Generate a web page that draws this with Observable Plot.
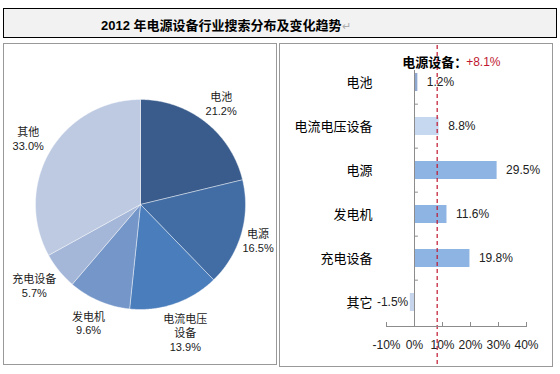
<!DOCTYPE html>
<html><head><meta charset="utf-8">
<script src="https://cdn.jsdelivr.net/npm/d3@7"></script>
<script src="https://cdn.jsdelivr.net/npm/@observablehq/plot@0.6"></script>
<style>
body{margin:0;background:#fff;width:560px;height:374px;position:relative;overflow:hidden;font-family:"Liberation Sans","Noto Sans CJK SC",sans-serif;}
#title{position:absolute;left:3px;top:8px;width:552px;height:28px;border:1px solid #000;background:#f2f2f2;}
#title span.t{position:absolute;left:97px;top:6px;font-size:13px;font-weight:bold;color:#000;white-space:nowrap;font-family:"Liberation Sans","Noto Sans CJK SC",sans-serif;}
#title span.r{font-weight:normal;color:#aaa;font-size:11px}
#left{position:absolute;left:3px;top:43px;width:272px;height:320px;border:1px solid #999;}
#right{position:absolute;left:279px;top:43px;width:272px;height:322px;border:1px solid #999;}
#left svg,#right svg{position:absolute;left:0;top:0;}
</style></head><body>
<div id="title"><span class="t">2012 年电源设备行业搜索分布及变化趋势<span class="r">↵</span></span></div>
<div id="left"></div>
<div id="right"></div>
<script>
// ---- Pie data (share of searches, %) ----
const pieNames = ["电池", "电源", "电流电压设备", "发电机", "充电设备", "其他"];
const pieLabels = ["电池", "电源", "电流电压\n设备", "发电机", "充电设备", "其他"];
const pieValues = [21.2, 16.5, 13.9, 9.6, 5.7, 33.0];
const pieColors = ["#3a5c8c", "#416ca4", "#4a7dbb", "#7596c9", "#a5b7d8", "#bdcae2"];

// ---- Bar data (change, %) ----
const barNames = ["电池", "电流电压设备", "电源", "发电机", "充电设备", "其它"];
const barValues = [1.2, 8.8, 29.5, 11.6, 19.8, -1.5];
const barColors = ["#8ea8cf", "#c6d8ef", "#8db4e2", "#8db4e2", "#8db4e2", "#c6d5ec"];
const xTicks = [-10, 0, 10, 20, 30, 40];
const overallName = "电源设备";
const overallValue = 8.1;

const FONT = '"Liberation Sans","Noto Sans CJK SC",sans-serif';

// ---- Pie ----
const arcs = d3.pie().sort(null).value(d => d)(pieValues);
const piePts = [];
arcs.forEach((a, i) => {
  const n = Math.max(2, Math.ceil((a.endAngle - a.startAngle) / 0.01));
  piePts.push({name: pieNames[i], x: 0, y: 0});
  for (let k = 0; k <= n; k++) {
    const t = a.startAngle + (a.endAngle - a.startAngle) * k / n;
    piePts.push({name: pieNames[i], x: Math.sin(t), y: Math.cos(t)});
  }
  piePts.push({name: pieNames[i], x: 0, y: 0});
});

const PW = 272, PH = 320, cx = 136, cy = 160, R = 105;
const LFS = 11, LLH = 14;
// Excel-like outside label placement: box edge just outside the arc, clamped to the panel
const pieText = arcs.map((a, i) => {
  const m = (a.startAngle + a.endAngle) / 2;
  const s = Math.sin(m), c = Math.cos(m);
  const text = pieLabels[i] + "\n" + pieValues[i].toFixed(1) + "%";
  const lines = text.split("\n");
  const w = d3.max(lines, l => Array.from(l).reduce((acc, ch) => acc + (/[\u4e00-\u9fff]/.test(ch) ? LFS : LFS * 0.56), 0));
  const h = lines.length * LLH;
  let px = (R + 10) * s + s * w / 2;
  let py = (R + 10) * c + c * h / 2;
  const maxX = PW - cx - w / 2 - 3, minX = -cx + w / 2 + 3;
  px = Math.max(minX, Math.min(maxX, px));
  return {x: px / R, y: py / R, text};
});

const pie = Plot.plot({
  width: PW, height: PH,
  margin: 0,
  style: {fontFamily: FONT, background: "transparent", color: "#1a1a1a"},
  x: {domain: [-1, 1], range: [cx - R, cx + R], axis: null},
  y: {domain: [-1, 1], range: [cy + R, cy - R], axis: null},
  color: {domain: pieNames, range: pieColors},
  marks: [
    Plot.line(piePts, {x: "x", y: "y", z: "name", fill: "name", stroke: "#ffffff", strokeWidth: 0.6, strokeOpacity: 0.7, curve: "linear"}),
    Plot.text(pieText, {x: "x", y: "y", text: "text", fontSize: LFS, lineHeight: LLH / LFS, fill: "#1a1a1a"})
  ]
});
document.getElementById("left").appendChild(pie);

// ---- Bars ----
const bars = barNames.map((n, i) => ({name: n, value: barValues[i]}));
const W = 272, H = 322, mT = 14, mB = 40, mL = 106, mR = 26;
const step = (H - mT - mB) / barNames.length;
const bar = Plot.plot({
  width: W, height: H,
  marginTop: mT, marginBottom: mB, marginLeft: mL, marginRight: mR,
  style: {fontFamily: FONT, background: "transparent", color: "#222"},
  x: {domain: [-10, 40], axis: null, label: null},
  y: {domain: barNames, paddingInner: 0.6, paddingOuter: 0.3, axis: null, label: null},
  color: {domain: barNames, range: barColors},
  marks: [
    Plot.barX(bars, {x: "value", y: "name", fill: "name"}),
    Plot.ruleX([overallValue], {stroke: "#c0172f", strokeWidth: 1.2, strokeDasharray: "4,3", insetTop: -13, insetBottom: -39}),
    Plot.ruleX([0], {stroke: "#8c8c8c", insetTop: 12}),
    Plot.ruleY(barNames.slice(1), {y: d => d, x1: 0, x2: 1.4, stroke: "#8c8c8c", dy: -step / 2}),
    Plot.frame({anchor: "bottom", stroke: "#8c8c8c"}),
    Plot.tickX(xTicks, {x: d => d, stroke: "#8c8c8c", insetTop: (H - mT - mB) - 4}),
    Plot.axisX(xTicks, {anchor: "bottom", label: null, tickSize: 0, tickPadding: 14, tickFormat: d => d + "%", fontSize: 12, fill: "#222"}),
    Plot.axisY({anchor: "left", label: null, tickSize: 0, tickPadding: 14, fontSize: 13, fill: "#000"}),
    Plot.text(bars, {filter: d => d.value >= 0, x: "value", y: "name", text: d => d.value.toFixed(1) + "%",
      textAnchor: "start", dx: 9, fontSize: 12, fill: "#222"}),
    Plot.text(bars, {filter: d => d.value < 0, x: "value", y: "name", text: d => d.value.toFixed(1) + "%",
      textAnchor: "end", dx: -2, fontSize: 12, fill: "#222"}),
    Plot.text([overallName + "："], {x: overallValue, frameAnchor: "top", text: d => d, textAnchor: "end", dx: 30, dy: -1, fontSize: 13, fontWeight: "bold", fill: "#000"}),
    Plot.text(["+" + overallValue.toFixed(1) + "%"], {x: overallValue, frameAnchor: "top", text: d => d, textAnchor: "start", dx: 29, dy: -1, fontSize: 12, fill: "#c0172f"})
  ]
});
document.getElementById("right").appendChild(bar);
</script>
</body></html>
